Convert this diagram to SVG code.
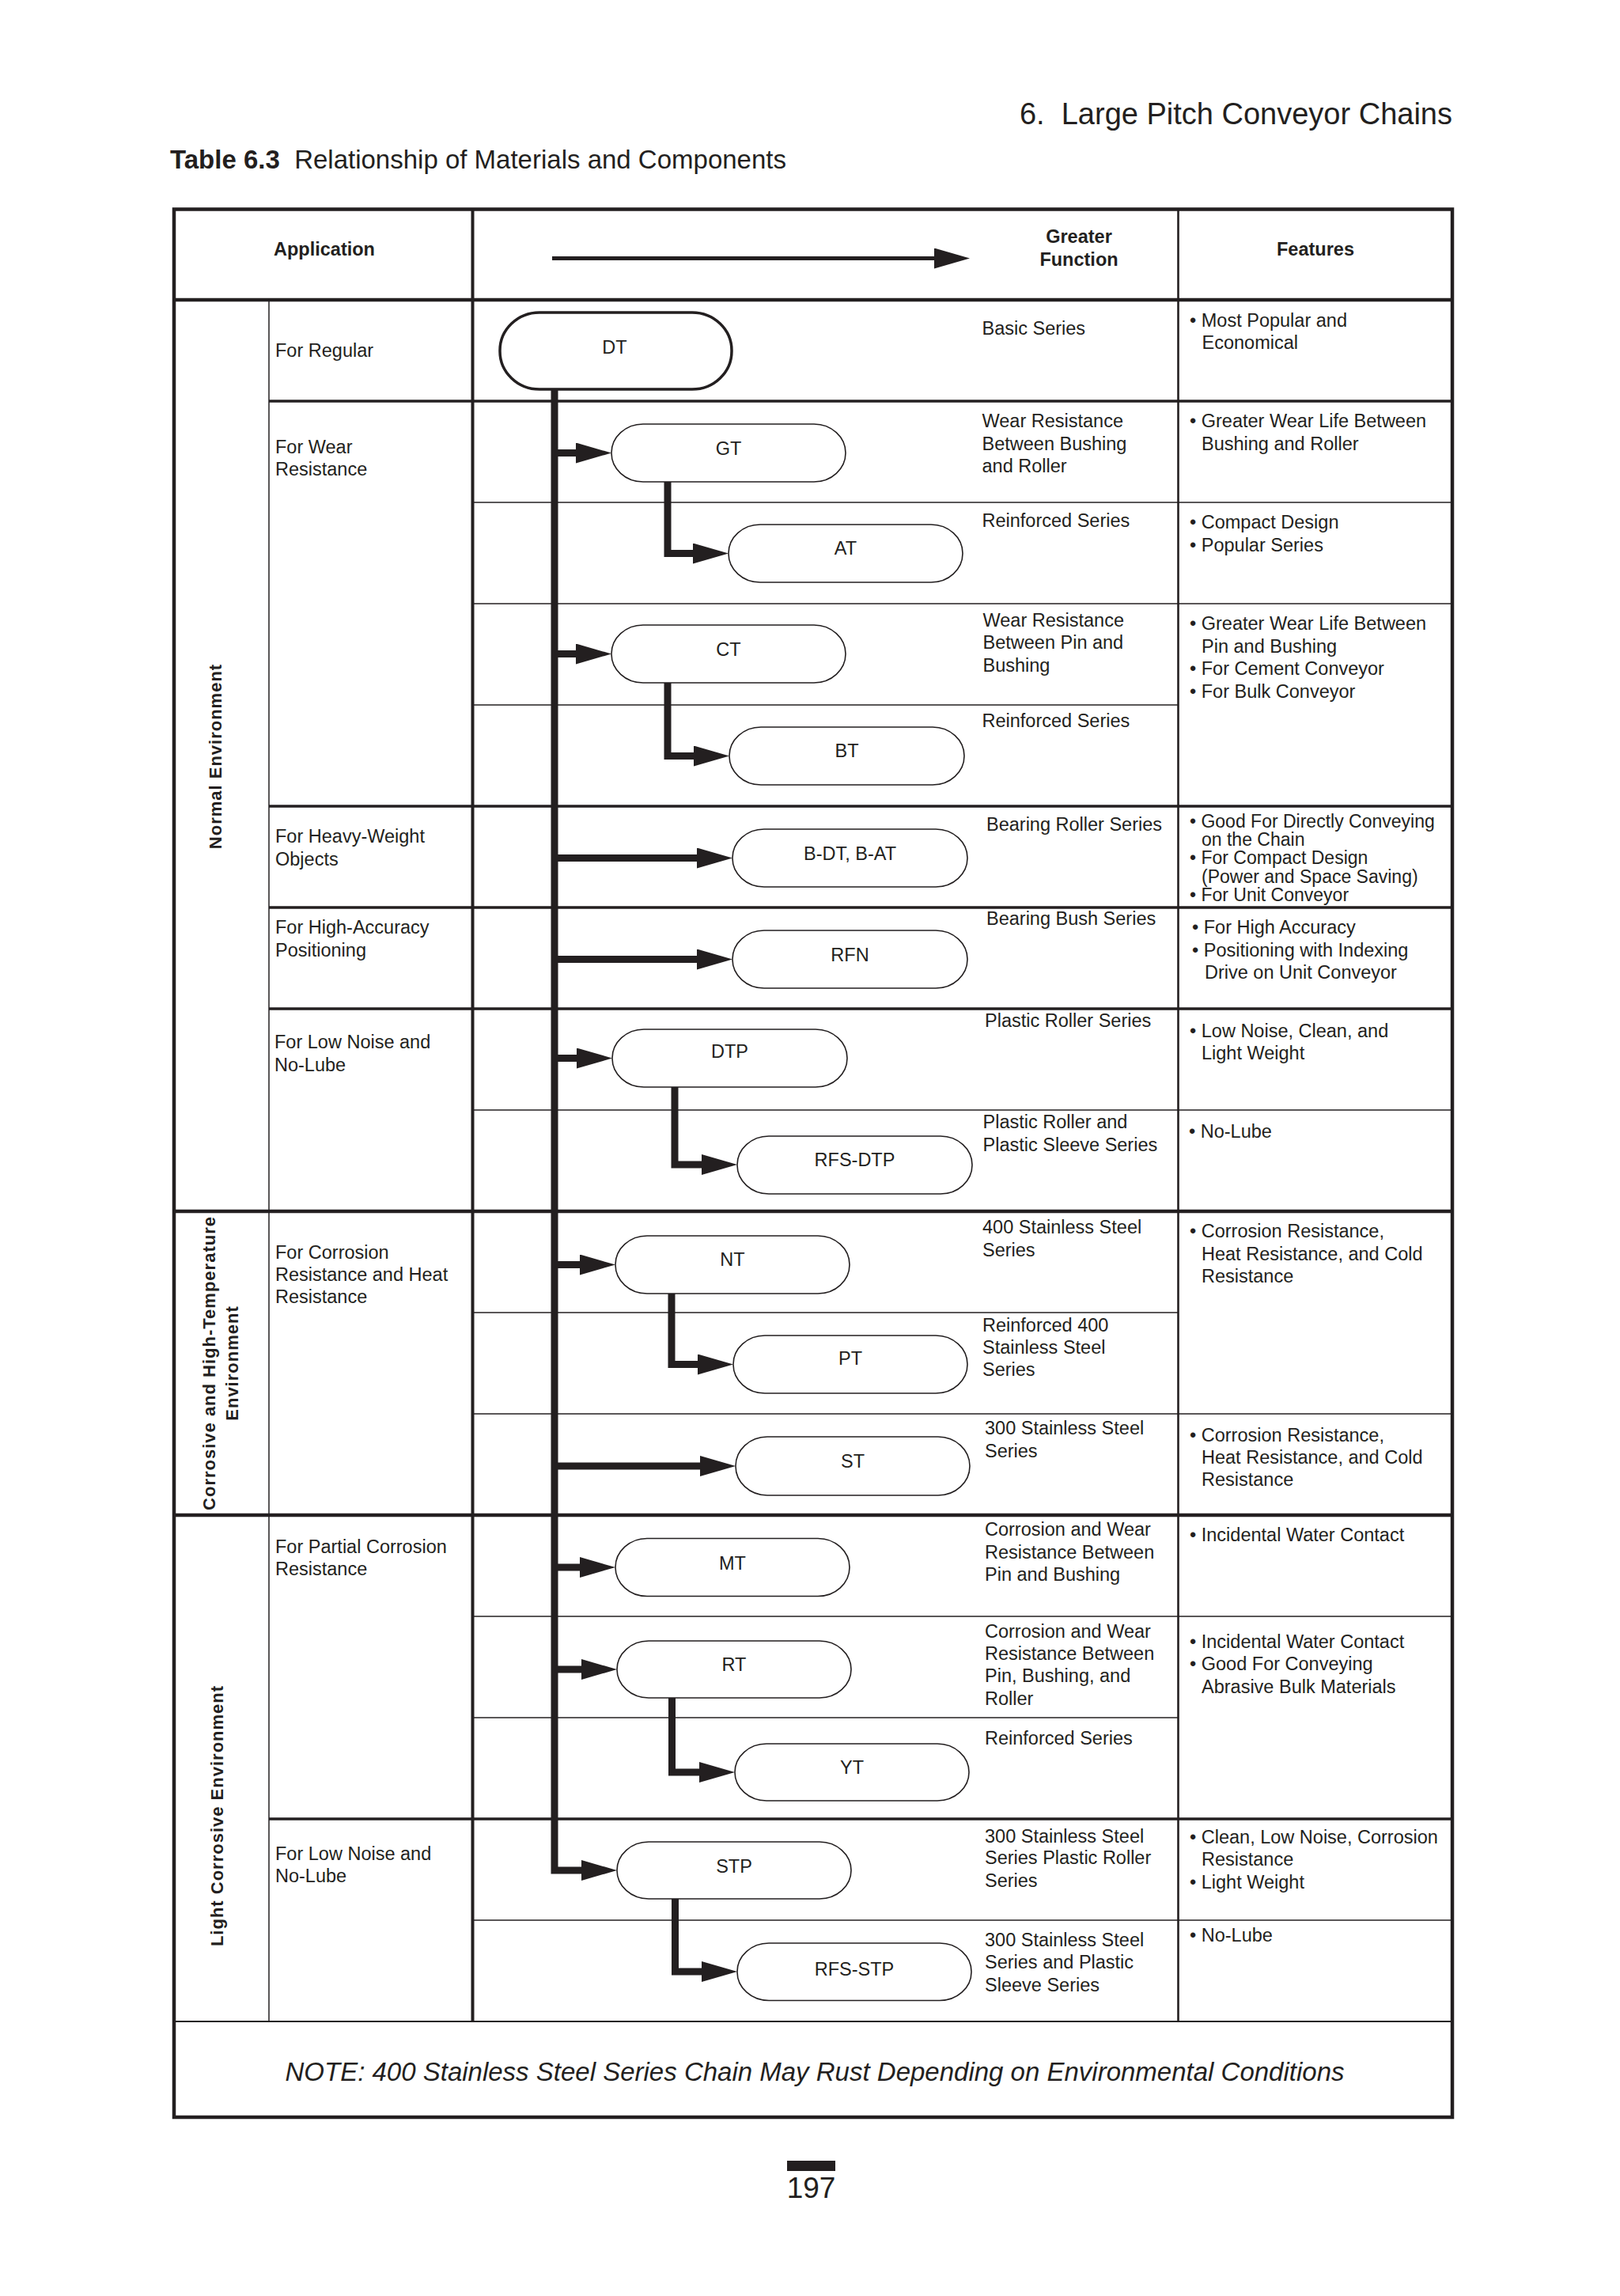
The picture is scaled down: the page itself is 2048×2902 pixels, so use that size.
<svg xmlns="http://www.w3.org/2000/svg" width="2048" height="2902" viewBox="0 0 2048 2902">
<style>
text{font-family:"Liberation Sans",Arial,Helvetica,sans-serif;fill:#231f20}
.tx{font-size:23.5px}
.sm{font-size:23px}
.hd{font-size:23.5px;font-weight:bold}
.lb{font-size:23.5px;text-anchor:middle}
.env{font-size:22px;font-weight:bold;text-anchor:middle;letter-spacing:1px}
.ln{stroke:#231f20;fill:none}
.k{stroke-width:4.5}
.m{stroke-width:3.5}
.t{stroke-width:1.5}
.node{fill:#fff;stroke:#231f20;stroke-width:1.6}
.cn{fill:none;stroke:#231f20;stroke-width:9;stroke-linejoin:miter;marker-end:url(#ah)}
</style>
<defs>
<marker id="ah" markerUnits="userSpaceOnUse" markerWidth="45" markerHeight="26" viewBox="0 0 45 26" refX="0" refY="13" orient="auto">
<path d="M0,0 L45,13 L0,26 Z" fill="#231f20"/>
</marker>
</defs>
<rect width="2048" height="2902" fill="#fff"/>

<g id="page-titles">
<text x="1836" y="156.5" font-size="38" text-anchor="end">6.&#160; Large Pitch Conveyor Chains</text>
<text x="215" y="213" font-size="33"><tspan font-weight="bold">Table 6.3</tspan>&#160; Relationship of Materials and Components</text>
</g>

<g id="table-grid">
<rect x="220" y="264.5" width="1616" height="2411.5" class="ln k"/>
<line x1="220" y1="379" x2="1836" y2="379" class="ln k"/>
<line x1="340" y1="507" x2="1836" y2="507" class="ln m"/>
<line x1="597" y1="635" x2="1836" y2="635" class="ln t"/>
<line x1="597" y1="763" x2="1836" y2="763" class="ln t"/>
<line x1="597" y1="891" x2="1489" y2="891" class="ln t"/>
<line x1="340" y1="1019" x2="1836" y2="1019" class="ln m"/>
<line x1="340" y1="1147" x2="1836" y2="1147" class="ln m"/>
<line x1="340" y1="1275" x2="1836" y2="1275" class="ln m"/>
<line x1="597" y1="1403" x2="1836" y2="1403" class="ln t"/>
<line x1="220" y1="1531" x2="1836" y2="1531" class="ln k"/>
<line x1="597" y1="1659" x2="1489" y2="1659" class="ln t"/>
<line x1="597" y1="1787" x2="1836" y2="1787" class="ln t"/>
<line x1="220" y1="1915" x2="1836" y2="1915" class="ln k"/>
<line x1="597" y1="2043" x2="1836" y2="2043" class="ln t"/>
<line x1="597" y1="2171" x2="1489" y2="2171" class="ln t"/>
<line x1="340" y1="2299" x2="1836" y2="2299" class="ln m"/>
<line x1="597" y1="2427" x2="1836" y2="2427" class="ln t"/>
<line x1="220" y1="2555" x2="1836" y2="2555" class="ln" stroke-width="2"/>
<line x1="340" y1="379" x2="340" y2="2555" class="ln t"/>
<line x1="597.5" y1="264.5" x2="597.5" y2="2555" class="ln" stroke-width="4"/>
<line x1="1489.5" y1="264.5" x2="1489.5" y2="2555" class="ln" stroke-width="2.6"/>
</g>

<g id="header">
<text x="410" y="323" class="hd" text-anchor="middle">Application</text>
<text x="1364" y="307" class="hd" text-anchor="middle">Greater</text>
<text x="1364" y="336" class="hd" text-anchor="middle">Function</text>
<text x="1663" y="323" class="hd" text-anchor="middle">Features</text>
<line x1="698" y1="326.5" x2="1181" y2="326.5" stroke="#231f20" stroke-width="5" marker-end="url(#ah)"/>
</g>

<g id="environment-labels">
<text class="env" transform="translate(279.5,956) rotate(-90)">Normal Environment</text>
<text class="env" transform="translate(272,1723) rotate(-90)">Corrosive and High-Temperature</text>
<text class="env" transform="translate(301,1723) rotate(-90)">Environment</text>
<text class="env" transform="translate(281.5,2295) rotate(-90)">Light Corrosive Environment</text>
</g>

<g id="applications" class="tx">
<text x="348" y="451">For Regular</text>
<text x="348" y="573">For Wear</text>
<text x="348" y="601">Resistance</text>
<text x="348" y="1065">For Heavy-Weight</text>
<text x="348" y="1093.5">Objects</text>
<text x="348" y="1180">For High-Accuracy</text>
<text x="348" y="1209">Positioning</text>
<text x="347" y="1325">For Low Noise and</text>
<text x="347" y="1353.5">No-Lube</text>
<text x="348" y="1590.5">For Corrosion</text>
<text x="348" y="1619">Resistance and Heat</text>
<text x="348" y="1647">Resistance</text>
<text x="348" y="1962.5">For Partial Corrosion</text>
<text x="348" y="1990.5">Resistance</text>
<text x="348" y="2351">For Low Noise and</text>
<text x="348" y="2379">No-Lube</text>
</g>

<g id="series" class="tx">
<text x="1241.5" y="423">Basic Series</text>
<text x="1241.5" y="540">Wear Resistance</text>
<text x="1241.5" y="568.5">Between Bushing</text>
<text x="1241.5" y="596.5">and Roller</text>
<text x="1241.5" y="665.5">Reinforced Series</text>
<text x="1242.5" y="791.5">Wear Resistance</text>
<text x="1242.5" y="820">Between Pin and</text>
<text x="1242.5" y="848.5">Bushing</text>
<text x="1241.5" y="919">Reinforced Series</text>
<text x="1247" y="1050">Bearing Roller Series</text>
<text x="1247" y="1169">Bearing Bush Series</text>
<text x="1245" y="1297.5">Plastic Roller Series</text>
<text x="1242.5" y="1426">Plastic Roller and</text>
<text x="1242.5" y="1454.5">Plastic Sleeve Series</text>
<text x="1242" y="1559">400 Stainless Steel</text>
<text x="1242" y="1588">Series</text>
<text x="1242" y="1682.5">Reinforced 400</text>
<text x="1242" y="1711">Stainless Steel</text>
<text x="1242" y="1739">Series</text>
<text x="1245" y="1813">300 Stainless Steel</text>
<text x="1245" y="1841.5">Series</text>
<text x="1245" y="1941">Corrosion and Wear</text>
<text x="1245" y="1969.5">Resistance Between</text>
<text x="1245" y="1997.5">Pin and Bushing</text>
<text x="1245" y="2069.5">Corrosion and Wear</text>
<text x="1245" y="2098">Resistance Between</text>
<text x="1245" y="2126">Pin, Bushing, and</text>
<text x="1245" y="2154.5">Roller</text>
<text x="1245" y="2204.5">Reinforced Series</text>
<text x="1245" y="2328.5">300 Stainless Steel</text>
<text x="1245" y="2356">Series Plastic Roller</text>
<text x="1245" y="2384.5">Series</text>
<text x="1245" y="2460">300 Stainless Steel</text>
<text x="1245" y="2488">Series and Plastic</text>
<text x="1245" y="2517">Sleeve Series</text>
</g>

<g id="features" class="tx">
<text x="1504" y="412.5">• Most Popular and</text>
<text x="1519.5" y="441">Economical</text>
<text x="1504" y="540">• Greater Wear Life Between</text>
<text x="1519" y="568.5">Bushing and Roller</text>
<text x="1504" y="668">• Compact Design</text>
<text x="1504" y="697">• Popular Series</text>
<text x="1504" y="796">• Greater Wear Life Between</text>
<text x="1519" y="825">Pin and Bushing</text>
<text x="1504" y="853">• For Cement Conveyor</text>
<text x="1504" y="882">• For Bulk Conveyor</text>
<g class="sm">
<text x="1504" y="1045.5">• Good For Directly Conveying</text>
<text x="1519" y="1068.5">on the Chain</text>
<text x="1504" y="1092">• For Compact Design</text>
<text x="1519" y="1116">(Power and Space Saving)</text>
<text x="1504" y="1139">• For Unit Conveyor</text>
</g>
<text x="1507" y="1180">• For High Accuracy</text>
<text x="1507" y="1209">• Positioning with Indexing</text>
<text x="1523" y="1237">Drive on Unit Conveyor</text>
<text x="1504" y="1310.5">• Low Noise, Clean, and</text>
<text x="1519" y="1338.5">Light Weight</text>
<text x="1503" y="1437.5">• No-Lube</text>
<text x="1504" y="1563.5">• Corrosion Resistance,</text>
<text x="1519" y="1592.5">Heat Resistance, and Cold</text>
<text x="1519" y="1620.5">Resistance</text>
<text x="1504" y="1822">• Corrosion Resistance,</text>
<text x="1519" y="1850">Heat Resistance, and Cold</text>
<text x="1519" y="1878">Resistance</text>
<text x="1504" y="1948">• Incidental Water Contact</text>
<text x="1504" y="2083">• Incidental Water Contact</text>
<text x="1504" y="2111">• Good For Conveying</text>
<text x="1519" y="2140">Abrasive Bulk Materials</text>
<text x="1504" y="2330">• Clean, Low Noise, Corrosion</text>
<text x="1519" y="2357.5">Resistance</text>
<text x="1504" y="2386.5">• Light Weight</text>
<text x="1504" y="2453.5">• No-Lube</text>
</g>

<g id="connectors">
<path class="cn" d="M701,492 V2364 H735"/>
<path class="cn" d="M701,572.5 H728"/>
<path class="cn" d="M701,826.5 H728"/>
<path class="cn" d="M701,1084.5 H881"/>
<path class="cn" d="M701,1212.5 H881"/>
<path class="cn" d="M701,1337.5 H729"/>
<path class="cn" d="M701,1598.5 H733"/>
<path class="cn" d="M701,1853 H885"/>
<path class="cn" d="M701,1981 H733"/>
<path class="cn" d="M701,2110 H735"/>
<path class="cn" d="M844,609 V699.5 H876"/>
<path class="cn" d="M844,863 V955.5 H877"/>
<path class="cn" d="M853,1374 V1472 H887"/>
<path class="cn" d="M849,1635 V1724.5 H882"/>
<path class="cn" d="M849.5,2146 V2240 H884"/>
<path class="cn" d="M853.5,2400 V2492 H887"/>
</g>

<g id="node-DT"><rect x="632" y="395" width="293" height="97" rx="50" ry="48" class="node" style="stroke-width:3.5"/><text x="777" y="447" class="lb">DT</text></g>
<g id="node-GT"><rect x="773" y="536" width="296" height="73" rx="40" ry="36.5" class="node"/><text x="921" y="575" class="lb">GT</text></g>
<g id="node-AT"><rect x="921" y="663" width="296" height="73" rx="40" ry="36.5" class="node"/><text x="1069" y="701" class="lb">AT</text></g>
<g id="node-CT"><rect x="773" y="790" width="296" height="73" rx="40" ry="36.5" class="node"/><text x="921" y="828.5" class="lb">CT</text></g>
<g id="node-BT"><rect x="922" y="919" width="297" height="73" rx="40" ry="36.5" class="node"/><text x="1070.5" y="957" class="lb">BT</text></g>
<g id="node-B-DT"><rect x="926" y="1048" width="297" height="73" rx="40" ry="36.5" class="node"/><text x="1074.5" y="1087" class="lb">B-DT, B-AT</text></g>
<g id="node-RFN"><rect x="926" y="1176" width="297" height="73" rx="40" ry="36.5" class="node"/><text x="1074.5" y="1215" class="lb">RFN</text></g>
<g id="node-DTP"><rect x="774" y="1301" width="297" height="73" rx="40" ry="36.5" class="node"/><text x="922.5" y="1337" class="lb">DTP</text></g>
<g id="node-RFS-DTP"><rect x="932" y="1436" width="297" height="73" rx="40" ry="36.5" class="node"/><text x="1080.5" y="1473.5" class="lb">RFS-DTP</text></g>
<g id="node-NT"><rect x="778" y="1562" width="296" height="73" rx="40" ry="36.5" class="node"/><text x="926" y="1599.5" class="lb">NT</text></g>
<g id="node-PT"><rect x="927" y="1688" width="296" height="73" rx="40" ry="36.5" class="node"/><text x="1075" y="1725" class="lb">PT</text></g>
<g id="node-ST"><rect x="930" y="1816" width="296" height="74" rx="40" ry="37" class="node"/><text x="1078" y="1855" class="lb">ST</text></g>
<g id="node-MT"><rect x="778" y="1944.5" width="296" height="73" rx="40" ry="36.5" class="node"/><text x="926" y="1984" class="lb">MT</text></g>
<g id="node-RT"><rect x="780" y="2074" width="296" height="72" rx="40" ry="36" class="node"/><text x="928" y="2112" class="lb">RT</text></g>
<g id="node-YT"><rect x="929" y="2204" width="296" height="72" rx="40" ry="36" class="node"/><text x="1077" y="2242" class="lb">YT</text></g>
<g id="node-STP"><rect x="780" y="2328" width="296" height="72" rx="40" ry="36" class="node"/><text x="928" y="2367" class="lb">STP</text></g>
<g id="node-RFS-STP"><rect x="932" y="2456" width="296" height="72.5" rx="40" ry="36" class="node"/><text x="1080" y="2497" class="lb">RFS-STP</text></g>

<g id="note">
<text x="1030" y="2630" font-size="33" font-style="italic" text-anchor="middle">NOTE: 400 Stainless Steel Series Chain May Rust Depending on Environmental Conditions</text>
</g>

<g id="page-number">
<rect x="995" y="2731" width="61" height="13" fill="#231f20"/>
<text x="1025.5" y="2778" font-size="37" text-anchor="middle">197</text>
</g>
</svg>
